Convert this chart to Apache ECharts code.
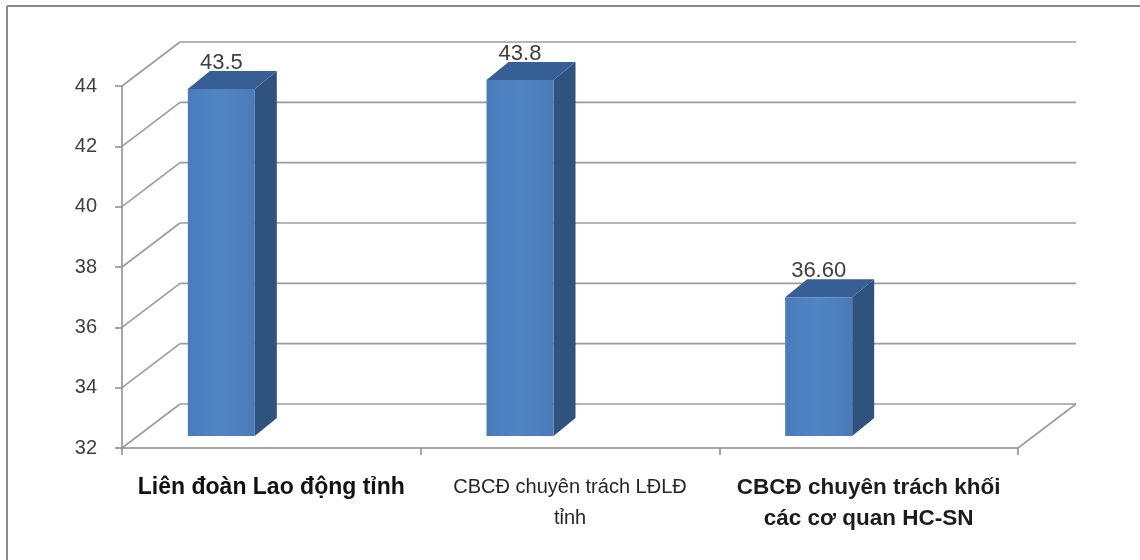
<!DOCTYPE html>
<html>
<head>
<meta charset="utf-8">
<script src="https://cdn.jsdelivr.net/npm/echarts@6/dist/echarts.min.js"></script>
<style>
  html, body { margin: 0; padding: 0; background: #ffffff; }
  #chart { width: 1140px; height: 560px; }
</style>
</head>
<body>
<div id="chart"></div>
<script>
// ---- data ----
const categories = ['Liên đoàn Lao động tỉnh', 'CBCĐ chuyên trách LĐLĐ\ntỉnh', 'CBCĐ chuyên trách khối\ncác cơ quan HC-SN'];
const categoryStyles = ['a', 'n', 'b'];
const values = [43.5, 43.8, 36.6];
const valueLabels = ['43.5', '43.8', '36.60'];
const yTicks = [32, 34, 36, 38, 40, 42, 44];

// ---- style constants ----
const FONT = "'Liberation Sans', Arial, sans-serif";
const DX = 58, DY = -44;          // back wall depth offset
const BAR_SHIFT_X = -50, BAR_SHIFT_Y = -12;
const BAR_W = 67, SIDE_DX = 22, SIDE_DY = -18;
const GRID_COLOR = '#9c9c9c';
const AXIS_COLOR = '#8a8a8a';

const chart = echarts.init(document.getElementById('chart'));

const option = {
  backgroundColor: '#ffffff',
  animation: false,
  grid: { left: 122, top: 86, width: 896, height: 362 },
  xAxis: {
    type: 'category',
    data: categories,
    axisLine: { show: true, lineStyle: { color: AXIS_COLOR, width: 1.5 } },
    axisTick: { show: true, length: 7, lineStyle: { color: AXIS_COLOR, width: 1.5 } },
    axisLabel: {
      interval: 0,
      margin: 24,
      fontFamily: FONT,
      formatter: function (val, idx) {
        const key = categoryStyles[idx];
        return val.split('\n').map(l => '{' + key + '|' + l + '}').join('\n');
      },
      rich: {
        a: { fontFamily: FONT, fontWeight: 'bold', fontSize: 23, color: '#111111', lineHeight: 31 },
        n: { fontFamily: FONT, fontWeight: 'normal', fontSize: 20, color: '#262626', lineHeight: 31 },
        b: { fontFamily: FONT, fontWeight: 'bold', fontSize: 22.5, color: '#1c1c1c', lineHeight: 31 }
      }
    },
    splitLine: { show: false }
  },
  yAxis: {
    type: 'value',
    min: 32,
    max: 44,
    interval: 2,
    axisLine: { show: true, lineStyle: { color: AXIS_COLOR, width: 1.5 } },
    axisTick: { show: true, length: 7, lineStyle: { color: AXIS_COLOR, width: 1.5 } },
    axisLabel: { margin: 25, fontFamily: FONT, fontSize: 20, color: '#404040' },
    splitLine: { show: false }
  },
  graphic: [
    { type: 'line', shape: { x1: 7, y1: 6, x2: 1140, y2: 6 }, style: { stroke: '#8a8a8a', lineWidth: 2 } },
    { type: 'line', shape: { x1: 7, y1: 6, x2: 7, y2: 560 }, style: { stroke: '#8a8a8a', lineWidth: 2 } }
  ],
  series: [
    {
      type: 'custom',
      name: 'walls',
      z: 1,
      silent: true,
      data: yTicks.map(t => [0, t]),
      encode: { x: 0, y: 1 },
      renderItem: function (params, api) {
        const cs = params.coordSys;
        const v = api.value(1);
        const y = api.coord([0, v])[1];
        const xl = cs.x, xr = cs.x + cs.width;
        const st = { stroke: GRID_COLOR, lineWidth: 1.6 };
        const children = [
          { type: 'line', shape: { x1: xl + DX, y1: y + DY, x2: xr + DX, y2: y + DY }, style: st },
          { type: 'line', shape: { x1: xl, y1: y, x2: xl + DX, y2: y + DY }, style: st }
        ];
        if (v === yTicks[0]) {
          children.push({ type: 'line', shape: { x1: xr, y1: y, x2: xr + DX, y2: y + DY }, style: st });
        }
        return { type: 'group', children: children };
      }
    },
    {
      type: 'custom',
      name: 'bars',
      z: 3,
      data: values.map((v, i) => [i, v]),
      encode: { x: 0, y: 1 },
      renderItem: function (params, api) {
        const i = api.value(0), v = api.value(1);
        const top = api.coord([i, v]);
        const base = api.coord([i, yTicks[0]]);
        const cx = top[0] + BAR_SHIFT_X;
        const x0 = cx - BAR_W / 2, x1 = cx + BAR_W / 2;
        const yt = top[1] + BAR_SHIFT_Y, yb = base[1] + BAR_SHIFT_Y;
        return {
          type: 'group',
          children: [
            { type: 'polygon', shape: { points: [[x1, yt], [x1 + SIDE_DX, yt + SIDE_DY], [x1 + SIDE_DX, yb + SIDE_DY], [x1, yb]] },
              style: { fill: '#2f527f' } },
            { type: 'polygon', shape: { points: [[x0, yt], [x0 + SIDE_DX, yt + SIDE_DY], [x1 + SIDE_DX, yt + SIDE_DY], [x1, yt]] },
              style: { fill: '#375e95' } },
            { type: 'rect', shape: { x: x0, y: yt, width: BAR_W, height: yb - yt },
              style: { fill: new echarts.graphic.LinearGradient(0, 0, 1, 0, [
                { offset: 0, color: '#4a7cbb' }, { offset: 0.5, color: '#5085c2' }, { offset: 1, color: '#4a7bb8' }]) } },
            { type: 'text', x: cx, y: yt - 26,
              style: { text: valueLabels[params.dataIndex], fontFamily: FONT, fontSize: 22, fill: '#404040',
                       align: 'center', verticalAlign: 'middle' } }
          ]
        };
      }
    }
  ]
};

chart.setOption(option);
</script>
</body>
</html>
